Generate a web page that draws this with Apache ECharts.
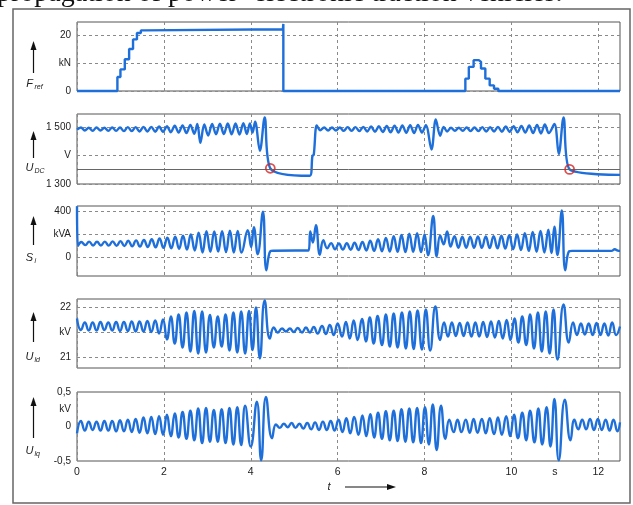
<!DOCTYPE html>
<html>
<head>
<meta charset="utf-8">
<script src="https://cdn.jsdelivr.net/npm/echarts@6/dist/echarts.min.js"></script>
<style>
  html, body { margin: 0; padding: 0; background: #fff; }
  #main { width: 633px; height: 505px; }
</style>
</head>
<body>
<div id="main"></div>
<script>
// ---- data: [t in s, value] ----
var fRef = [[0,0],[0.93,0],[0.93,5],[1.0,5],[1.0,7.7],[1.1,7.7],[1.1,11.3],[1.2,11.3],[1.2,15],[1.29,15],[1.29,18.4],[1.38,18.4],[1.38,20.7],[1.47,20.7],[1.47,21.6],[1.56,21.6],[1.56,22],[4.74,22],[4.75,23.9],[4.75,0],
  [8.94,0],[8.94,4.4],[9.02,4.4],[9.02,8.6],[9.13,8.6],[9.13,11],[9.25,11],[9.25,10.4],[9.3,10.4],[9.3,8],[9.4,8],[9.4,4.4],[9.5,4.4],[9.5,2],[9.6,2],[9.6,0.8],[9.7,0.8],[9.7,0],[12.5,0]];

var uDC = [[0,1490],[0.09,1498],[0.18,1487],[0.27,1497],[0.36,1486],[0.45,1498],[0.54,1487],[0.63,1497],[0.72,1486],[0.81,1498],[0.9,1486],[0.99,1498],[1.08,1485],[1.17,1499],[1.26,1485],[1.35,1499],[1.44,1484],[1.53,1500],[1.62,1484],[1.71,1500],[1.8,1483],[1.89,1501],[1.98,1482],
  [2.07,1502],[2.16,1481],[2.25,1504],[2.34,1480],[2.43,1505],[2.52,1478],[2.61,1507],[2.7,1476],[2.77,1510],[2.84,1444],[2.93,1508],[3.02,1470],[3.11,1510],[3.2,1474],[3.29,1511],[3.38,1475],[3.47,1512],[3.56,1474],[3.65,1512],[3.74,1473],[3.83,1513],[3.91,1475],[3.98,1512],[4.04,1480],[4.1,1518],[4.21,1416],[4.32,1533],[4.45,1355],
  [5.36,1329],[5.42,1398],[5.45,1402],[5.52,1505],[5.6,1488],[5.69,1498],[5.78,1487],[5.87,1498],[5.96,1487],[6.05,1498],[6.14,1486],[6.23,1499],[6.32,1486],[6.41,1499],[6.5,1485],[6.59,1500],[6.68,1484],[6.77,1501],[6.86,1483],[6.95,1502],[7.04,1482],[7.13,1503],[7.22,1481],[7.31,1504],[7.4,1480],[7.49,1505],[7.58,1479],[7.67,1506],[7.76,1478],[7.85,1507],[7.94,1480],[8.03,1506],[8.16,1421],[8.26,1526],[8.36,1469],
  [8.44,1500],[8.52,1484],[8.61,1497],[8.7,1486],[8.79,1497],[8.88,1486],[8.97,1498],[9.06,1485],[9.15,1498],[9.24,1485],[9.33,1499],[9.42,1484],[9.51,1499],[9.6,1484],[9.69,1500],[9.78,1483],[9.87,1501],[9.96,1482],[10.05,1502],[10.14,1481],[10.23,1503],[10.32,1480],[10.41,1505],[10.5,1478],[10.59,1507],[10.68,1477],[10.77,1508],[10.86,1478],[10.99,1510],[11.09,1405],[11.2,1533],[11.34,1351],[12.5,1332]];

var uDCMarks = [[4.45,1355],[11.34,1351]];
var uDCLimit = 1350;

var sI = [[0,440],[0.02,100],[0.1,135],[0.19,108],[0.28,138],[0.37,105],[0.46,136],[0.55,104],[0.64,138],[0.73,103],[0.82,140],[0.91,102],[1.0,142],[1.09,100],[1.18,145],[1.27,98],[1.36,148],[1.45,95],[1.54,152],[1.63,92],[1.72,158],[1.81,88],[1.9,165],[1.99,84],
  [2.08,172],[2.17,80],[2.26,180],[2.35,76],[2.44,188],[2.53,70],[2.62,200],[2.71,62],[2.8,215],[2.89,45],[2.98,228],[3.07,50],[3.16,225],[3.25,52],[3.34,228],[3.43,48],[3.52,232],[3.61,45],[3.7,230],[3.79,45],[3.93,235],[4.01,90],[4.07,262],[4.16,30],[4.28,395],[4.36,-108],[4.45,55],[4.52,60],
  [5.33,62],[5.37,225],[5.43,130],[5.5,278],[5.59,25],[5.67,150],[5.76,80],[5.85,125],[5.94,72],[6.03,122],[6.12,70],[6.21,125],[6.3,68],[6.39,128],[6.48,66],[6.57,135],[6.66,62],[6.75,145],[6.84,58],[6.93,158],[7.02,55],[7.11,170],[7.2,52],[7.29,185],[7.38,50],[7.47,195],[7.56,48],[7.65,205],[7.74,50],[7.83,210],[7.92,48],
  [8.0,200],[8.08,20],[8.2,358],[8.28,10],[8.36,190],[8.44,115],[8.52,225],[8.6,95],[8.69,185],[8.78,85],[8.87,180],[8.96,85],[9.05,180],[9.14,84],[9.23,182],[9.32,84],[9.41,182],[9.5,82],[9.59,185],[9.68,80],[9.77,188],[9.86,78],[9.95,192],[10.04,72],[10.13,200],[10.22,65],[10.31,210],[10.4,58],[10.49,220],[10.58,50],[10.67,230],[10.76,45],[10.85,240],[10.92,40],
  [10.99,266],[11.06,23],[11.16,405],[11.24,-108],[11.33,55],[11.4,58],[12.3,58],[12.38,72],[12.45,60],[12.5,58]];

var uLd = [[0,21.78],[0.09,21.55],[0.18,21.70],[0.27,21.54],[0.36,21.70],[0.45,21.54],[0.54,21.71],[0.63,21.55],[0.72,21.70],[0.81,21.54],[0.9,21.71],[0.99,21.53],[1.08,21.71],[1.17,21.53],[1.26,21.72],[1.35,21.52],[1.44,21.72],[1.53,21.52],[1.62,21.73],[1.71,21.51],[1.8,21.74],[1.89,21.48],[1.98,21.76],
  [2.07,21.36],[2.16,21.82],[2.25,21.28],[2.34,21.86],[2.43,21.2],[2.52,21.9],[2.61,21.12],[2.7,21.93],[2.79,21.08],[2.88,21.92],[2.97,21.1],[3.06,21.85],[3.15,21.2],[3.24,21.82],[3.33,21.22],[3.42,21.86],[3.51,21.14],[3.6,21.9],[3.69,21.1],[3.78,21.92],[3.87,21.08],[3.96,21.93],[4.04,21.15],[4.12,22.0],[4.21,20.98],[4.32,22.14],[4.44,21.38],
  [4.53,21.6],[4.62,21.5],[4.72,21.58],[4.81,21.52],[4.9,21.58],[4.99,21.51],[5.08,21.59],[5.18,21.5],[5.27,21.6],[5.36,21.5],[5.45,21.61],[5.54,21.48],[5.64,21.63],[5.73,21.47],[5.82,21.65],[5.91,21.45],[6.0,21.68],[6.1,21.42],[6.19,21.71],[6.28,21.38],[6.37,21.74],[6.46,21.35],[6.56,21.77],[6.65,21.32],[6.74,21.8],[6.83,21.28],[6.92,21.83],[7.02,21.25],[7.11,21.86],[7.2,21.22],[7.29,21.88],[7.38,21.2],[7.48,21.9],[7.57,21.18],[7.66,21.92],[7.75,21.17],[7.84,21.94],[7.94,21.16],[8.03,21.96],[8.13,21.14],[8.25,22.02],[8.36,21.35],
  [8.45,21.7],[8.54,21.42],[8.63,21.7],[8.72,21.43],[8.81,21.69],[8.9,21.43],[8.99,21.7],[9.08,21.42],[9.17,21.7],[9.26,21.42],[9.35,21.71],[9.44,21.41],[9.53,21.72],[9.62,21.4],[9.71,21.73],[9.8,21.38],[9.89,21.75],[9.98,21.35],[10.07,21.78],[10.16,21.3],[10.25,21.82],[10.34,21.25],[10.43,21.86],[10.52,21.18],[10.61,21.9],[10.7,21.12],[10.79,21.92],[10.88,21.08],[10.97,21.96],[11.06,20.96],[11.2,22.06],[11.32,21.3],
  [11.42,21.7],[11.51,21.45],[11.6,21.68],[11.69,21.46],[11.78,21.68],[11.87,21.45],[11.96,21.69],[12.05,21.45],[12.14,21.68],[12.23,21.44],[12.32,21.7],[12.41,21.45],[12.5,21.62]];

var uLq = [[0,-0.1],[0.09,0.08],[0.18,-0.06],[0.27,0.07],[0.36,-0.05],[0.45,0.07],[0.54,-0.06],[0.63,0.08],[0.72,-0.06],[0.81,0.08],[0.9,-0.07],[0.99,0.09],[1.08,-0.07],[1.17,0.1],[1.26,-0.08],[1.35,0.11],[1.44,-0.09],[1.53,0.13],[1.62,-0.1],[1.71,0.14],[1.8,-0.11],[1.89,0.15],[1.98,-0.12],
  [2.07,0.17],[2.16,-0.14],[2.25,0.19],[2.34,-0.16],[2.43,0.21],[2.52,-0.18],[2.61,0.23],[2.7,-0.2],[2.79,0.26],[2.88,-0.24],[2.97,0.27],[3.06,-0.22],[3.15,0.24],[3.24,-0.22],[3.33,0.25],[3.42,-0.24],[3.51,0.27],[3.6,-0.26],[3.69,0.28],[3.78,-0.27],[3.87,0.3],[4.0,-0.29],[4.14,0.36],[4.24,-0.49],[4.35,0.43],[4.49,-0.17],
  [4.58,0.03],[4.67,-0.02],[4.76,0.04],[4.85,-0.01],[4.94,0.05],[5.03,-0.02],[5.12,0.04],[5.21,-0.03],[5.3,0.05],[5.39,-0.04],[5.48,0.06],[5.57,-0.05],[5.66,0.07],[5.75,-0.05],[5.84,0.08],[5.93,-0.06],[6.02,0.1],[6.11,-0.08],[6.2,0.12],[6.29,-0.1],[6.38,0.14],[6.48,-0.12],[6.57,0.16],[6.66,-0.14],[6.75,0.18],[6.84,-0.16],[6.93,0.2],[7.02,-0.18],[7.11,0.22],[7.2,-0.2],[7.29,0.23],[7.38,-0.21],[7.47,0.25],[7.56,-0.22],[7.65,0.26],[7.74,-0.23],[7.83,0.27],[7.92,-0.24],[8.01,0.28],[8.1,-0.26],[8.19,0.32],[8.28,-0.34],[8.38,0.3],[8.48,-0.18],
  [8.57,0.1],[8.67,-0.08],[8.76,0.1],[8.85,-0.08],[8.95,0.1],[9.04,-0.09],[9.13,0.11],[9.22,-0.09],[9.32,0.11],[9.41,-0.1],[9.5,0.12],[9.6,-0.11],[9.69,0.13],[9.78,-0.12],[9.88,0.15],[9.97,-0.14],[10.06,0.17],[10.15,-0.17],[10.25,0.2],[10.34,-0.2],[10.43,0.23],[10.53,-0.23],[10.62,0.26],[10.71,-0.26],[10.81,0.28],[10.9,-0.29],[10.99,0.4],[11.09,-0.49],[11.23,0.39],[11.36,-0.2],
  [11.45,0.1],[11.54,-0.04],[11.63,0.1],[11.72,-0.04],[11.81,0.11],[11.9,-0.05],[11.99,0.11],[12.08,-0.05],[12.17,0.1],[12.26,-0.06],[12.35,0.1],[12.44,-0.07],[12.5,0.06]];

// ---- axis ticks and labels ----
var tTicks = [0, 2, 4, 6, 8, 10, 12];
var tLabelValues = [0, 2, 4, 6, 8, 10, 11, 12];
var tLabelText = ['0', '2', '4', '6', '8', '10', 's', '12'];

var fTicks = [0, 10, 20],            fTickText = ['0', 'kN', '20'];
var uDCTicks = [1300, 1400, 1500],   uDCTickText = ['1 300', 'V', '1 500'];
var sITicks = [0, 200, 400],         sITickText = ['0', 'kVA', '400'];
var uLdTicks = [21, 21.5, 22],       uLdTickText = ['21', 'kV', '22'];
var uLqTicks = [-0.5, 0, 0.25, 0.5], uLqTickText = ['-0,5', '0', 'kV', '0,5'];

var blue = '#1e6fd9';
var labelFont = '"Liberation Sans Narrow", "Liberation Sans", Arial, sans-serif';

var panels = [
  { top: 22,  height: 69, min: 0,     max: 24.6,  ticks: fTicks,   text: fTickText,   hGrid: true,  data: fRef, smooth: false },
  { top: 114, height: 70, min: 1300,  max: 1545,  ticks: uDCTicks, text: uDCTickText, hGrid: true,  data: uDC,  smooth: 0.35 },
  { top: 206, height: 70, min: -157,  max: 443,   ticks: sITicks,  text: sITickText,  hGrid: true,  data: sI,   smooth: 0.45 },
  { top: 299, height: 69, min: 20.79, max: 22.17, ticks: uLdTicks, text: uLdTickText, hGrid: true,  data: uLd,  smooth: 0.5 },
  { top: 392, height: 69, min: -0.5,  max: 0.5,   ticks: uLqTicks, text: uLqTickText, hGrid: false, data: uLq,  smooth: 0.5 }
];

var dashed = { show: true, lineStyle: { color: '#8a8a8a', type: [3, 3], width: 1 } };

var grids = [], xAxes = [], yAxes = [], series = [];
panels.forEach(function (p, i) {
  grids.push({ left: 77, top: p.top, width: 543, height: p.height, show: true,
    borderColor: '#555', borderWidth: 1, backgroundColor: '#fff' });
  var last = i === panels.length - 1;
  xAxes.push({
    type: 'value', gridIndex: i, min: 0, max: 12.5,
    axisLine: { show: false },
    axisTick: { show: false, customValues: tTicks },
    splitLine: dashed,
    axisLabel: last ? {
      show: true, customValues: tLabelValues, margin: 6,
      fontSize: 10.5, color: '#222', fontFamily: labelFont,
      formatter: function (v) { return tLabelText[tLabelValues.indexOf(v)]; }
    } : { show: false }
  });
  yAxes.push({
    type: 'value', gridIndex: i, min: p.min, max: p.max,
    axisLine: { show: false },
    axisTick: { show: false, customValues: p.ticks },
    splitLine: p.hGrid ? dashed : { show: false },
    axisLabel: {
      show: true, customValues: p.ticks, margin: 6,
      fontSize: 10, color: '#222', fontFamily: labelFont,
      formatter: function (v) { return p.text[p.ticks.indexOf(v)]; }
    }
  });
  var s = {
    type: 'line', xAxisIndex: i, yAxisIndex: i, data: p.data,
    showSymbol: false, smooth: p.smooth, clip: false,
    lineStyle: { color: blue, width: 2.4 }, z: 3
  };
  if (i === 1) {
    s.markLine = { silent: true, symbol: 'none', label: { show: false },
      lineStyle: { color: '#666', type: 'solid', width: 1 },
      data: [{ yAxis: uDCLimit }] };
  }
  series.push(s);
});

series.push({
  type: 'scatter', xAxisIndex: 1, yAxisIndex: 1, data: uDCMarks,
  symbol: 'circle', symbolSize: 9, z: 5,
  itemStyle: { color: 'rgba(255,255,255,0)', borderColor: '#d02525', borderWidth: 1.8 }
});

// ---- left quantity labels with upward arrows ----
var sideLabels = [
  { main: 'F', sub: 'ref', head: 41,  foot: 73,  y: 84 },
  { main: 'U', sub: 'DC',  head: 131, foot: 158, y: 168 },
  { main: 'S', sub: 'i',   head: 216, foot: 245, y: 258 },
  { main: 'U', sub: 'ld',  head: 312, foot: 342, y: 357 },
  { main: 'U', sub: 'lq',  head: 397, foot: 438, y: 451 }
];

var graphics = [];
graphics.push({ type: 'rect', shape: { x: 13, y: 9, width: 617, height: 494 },
  style: { fill: 'none', stroke: '#666', lineWidth: 1.5 }, z: 10 });
graphics.push({ type: 'text', x: -3, y: 7.5, z: 10,
  style: { text: 'propagation of power- electronic traction vehicles.', font: '28px "Liberation Serif", serif',
    fill: '#111', verticalAlign: 'bottom' } });

sideLabels.forEach(function (l) {
  var ax = 33.5;
  graphics.push({ type: 'line', shape: { x1: ax, y1: l.foot, x2: ax, y2: l.head + 7 },
    style: { stroke: '#111', lineWidth: 1.2 }, z: 10 });
  graphics.push({ type: 'polygon', shape: { points: [[ax, l.head], [ax - 3, l.head + 9], [ax + 3, l.head + 9]] },
    style: { fill: '#111' }, z: 10 });
  graphics.push({ type: 'text', x: ax - 4, y: l.y, z: 10,
    style: { text: l.main, font: 'italic 11px "Liberation Sans", Arial, sans-serif', fill: '#222',
      align: 'center', verticalAlign: 'middle' } });
  graphics.push({ type: 'text', x: ax + 1, y: l.y + 3, z: 10,
    style: { text: l.sub, font: 'italic 7px "Liberation Sans", Arial, sans-serif', fill: '#222',
      align: 'left', verticalAlign: 'middle' } });
});

// time axis caption
graphics.push({ type: 'text', x: 329, y: 487, z: 10,
  style: { text: 't', font: 'italic 11px "Liberation Sans", Arial, sans-serif', fill: '#222',
    align: 'center', verticalAlign: 'middle' } });
graphics.push({ type: 'line', shape: { x1: 345, y1: 487, x2: 388, y2: 487 },
  style: { stroke: '#111', lineWidth: 1.2 }, z: 10 });
graphics.push({ type: 'polygon', shape: { points: [[396, 487], [387, 484], [387, 490]] },
  style: { fill: '#111' }, z: 10 });

var chart = echarts.init(document.getElementById('main'));
chart.setOption({
  animation: false,
  backgroundColor: '#fff',
  grid: grids,
  xAxis: xAxes,
  yAxis: yAxes,
  series: series,
  graphic: graphics
});
</script>
</body>
</html>
